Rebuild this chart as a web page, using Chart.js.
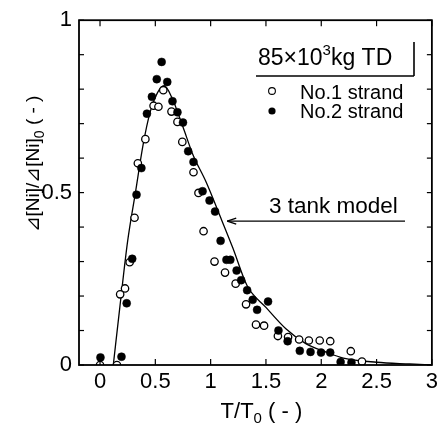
<!DOCTYPE html>
<html>
<head>
<meta charset="utf-8">
<script src="https://cdn.jsdelivr.net/npm/chart.js@4"></script>
<style>
    html, body { margin: 0; padding: 0; background: #fff; }
    canvas { display: block; }
</style>
</head>
<body>
<canvas id="chart" width="442" height="430"></canvas>
<script>
(function () {
    "use strict";

    // Axis ticks
    const xTicks = [0, 0.5, 1, 1.5, 2, 2.5, 3];
    const xTickLabels = ["0", "0.5", "1", "1.5", "2", "2.5", "3"];
    const yTicks = [0, 0.1, 0.2, 0.3, 0.4, 0.5, 0.6, 0.7, 0.8, 0.9, 1];
    const yTickLabels = ["0", "", "", "", "", "0.5", "", "", "", "", "1"];

    // No.1 strand (open circles)
    const strand1X = [0, 0.153, 0.182, 0.226, 0.268, 0.312, 0.342, 0.41, 0.484, 0.528,
        0.572, 0.646, 0.70, 0.744, 0.845, 0.89, 0.936, 1.035, 1.13, 1.226,
        1.32, 1.41, 1.483, 1.608, 1.70, 1.80, 1.888, 1.986, 2.081, 2.267, 2.368];
    const strand1Y = [0, 0, 0.205, 0.222, 0.298, 0.427, 0.585, 0.655, 0.752, 0.749,
        0.797, 0.735, 0.705, 0.647, 0.559, 0.499, 0.388, 0.30, 0.268, 0.236,
        0.176, 0.117, 0.114, 0.084, 0.081, 0.074, 0.071, 0.071, 0.069, 0.04, 0.01];

    // No.2 strand (filled circles)
    const strand2X = [0.004, 0.194, 0.241, 0.291, 0.33, 0.374, 0.424, 0.469, 0.513, 0.557,
        0.608, 0.655, 0.70, 0.75, 0.797, 0.845, 0.927, 0.99, 1.04, 1.09,
        1.143, 1.178, 1.235, 1.276, 1.33, 1.38, 1.42, 1.519, 1.613, 1.696,
        1.806, 1.903, 1.998, 2.081, 2.175, 2.273];
    const strand2Y = [0.022, 0.024, 0.179, 0.308, 0.494, 0.571, 0.729, 0.778, 0.829, 0.879,
        0.821, 0.765, 0.733, 0.703, 0.62, 0.589, 0.504, 0.477, 0.445, 0.36,
        0.305, 0.305, 0.274, 0.246, 0.217, 0.189, 0.16, 0.184, 0.10, 0.069,
        0.041, 0.038, 0.036, 0.036, 0.009, 0.007];

    // 3 tank model curve
    const modelX = [0.12, 0.18, 0.25, 0.32, 0.39, 0.45, 0.52, 0.58, 0.65, 0.75,
        0.84, 0.96, 1.1, 1.2, 1.33, 1.5, 1.68, 1.86, 2.04, 2.2, 2.5, 2.8, 3.0];
    const modelY = [0, 0.17, 0.36, 0.5, 0.64, 0.73, 0.79, 0.81, 0.775, 0.69,
        0.61, 0.53, 0.42, 0.34, 0.23, 0.167, 0.105, 0.062, 0.038, 0.02, 0.008, 0.003, 0];

    const FONT = "'Liberation Sans', Arial, Helvetica, sans-serif";

    const toPoints = (xs, ys) => xs.map((x, i) => ({ x: x, y: ys[i] }));

    // text runs: [text, size, vertical shift]
    function richWidth(ctx, parts) {
        let w = 0;
        parts.forEach((p) => {
            ctx.font = p[1] + "px " + FONT;
            w += ctx.measureText(p[0]).width;
        });
        return w;
    }
    function drawRich(ctx, parts, x, y) {
        parts.forEach((p) => {
            ctx.font = p[1] + "px " + FONT;
            ctx.fillText(p[0], x, y + (p[2] || 0));
            x += ctx.measureText(p[0]).width;
        });
    }
    function line(ctx, x1, y1, x2, y2) {
        ctx.beginPath();
        ctx.moveTo(x1, y1);
        ctx.lineTo(x2, y2);
        ctx.stroke();
    }

    const decorations = {
        id: "decorations",
        afterDraw(chart) {
            const ctx = chart.ctx;
            const a = chart.chartArea;
            const xs = chart.scales.x;
            const ys = chart.scales.y;
            ctx.save();
            ctx.strokeStyle = "#000";
            ctx.fillStyle = "#000";

            // inward ticks
            ctx.lineWidth = 1.2;
            xTicks.forEach((v) => {
                const px = xs.getPixelForValue(v);
                line(ctx, px, a.bottom, px, a.bottom - 6);
                line(ctx, px, a.top, px, a.top + 6);
            });
            yTicks.forEach((v) => {
                const py = ys.getPixelForValue(v);
                line(ctx, a.left, py, a.left + 5, py);
                line(ctx, a.right, py, a.right - 5, py);
            });

            // frame
            ctx.lineWidth = 1.8;
            ctx.strokeRect(a.left, a.top, a.right - a.left, a.bottom - a.top);

            ctx.textBaseline = "alphabetic";
            ctx.textAlign = "left";

            // x axis title
            const xt = [["T/T", 22], ["0", 15, 5], [" ( - )", 22]];
            drawRich(ctx, xt, (a.left + a.right) / 2 - richWidth(ctx, xt) / 2 + 6, 418);

            // y axis title
            const yt = [["\u22BF[Ni]/\u22BF[Ni]", 19], ["0", 14, 5], [" ( - )", 19]];
            ctx.save();
            ctx.translate(39, 164);
            ctx.rotate(-Math.PI / 2);
            drawRich(ctx, yt, -richWidth(ctx, yt) / 2, 0);
            ctx.restore();

            // condition box
            drawRich(ctx, [["85\u00D710", 23], ["3", 15, -10], ["kg TD", 23]], 258, 65);
            ctx.lineWidth = 1.6;
            line(ctx, 256, 76, 414, 76);
            line(ctx, 414, 42, 414, 76);

            // legend
            const lx = 272;
            ctx.lineWidth = 1.1;
            ctx.beginPath();
            ctx.arc(lx, 91, 3.4, 0, Math.PI * 2);
            ctx.fillStyle = "#fff";
            ctx.fill();
            ctx.stroke();
            ctx.fillStyle = "#000";
            ctx.beginPath();
            ctx.arc(lx, 111, 3.6, 0, Math.PI * 2);
            ctx.fill();
            drawRich(ctx, [["No.1 strand", 20]], 300, 99);
            drawRich(ctx, [["No.2 strand", 20]], 300, 118);

            // model label and arrow
            drawRich(ctx, [["3 tank model", 22.5]], 269, 213);
            const tipX = xs.getPixelForValue(1.15);
            const tipY = ys.getPixelForValue(0.417);
            ctx.lineWidth = 1.3;
            line(ctx, tipX, tipY, 405, tipY);
            line(ctx, tipX, tipY, tipX + 9, tipY - 3);
            line(ctx, tipX, tipY, tipX + 9, tipY + 3);

            ctx.restore();
        },
    };

    const ctx = document.getElementById("chart").getContext("2d");
    new Chart(ctx, {
        type: "scatter",
        data: {
            datasets: [
                {
                    label: "No.2 strand",
                    data: toPoints(strand2X, strand2Y),
                    pointRadius: 4,
                    pointBackgroundColor: "#000",
                    pointBorderColor: "#000",
                    pointBorderWidth: 0.5,
                    clip: 0,
                },
                {
                    label: "No.1 strand",
                    data: toPoints(strand1X, strand1Y),
                    pointRadius: 3.7,
                    pointBackgroundColor: "#fff",
                    pointBorderColor: "#000",
                    pointBorderWidth: 1.3,
                    clip: 0,
                },
                {
                    label: "3 tank model",
                    data: toPoints(modelX, modelY),
                    showLine: true,
                    pointRadius: 0,
                    borderColor: "#000",
                    borderWidth: 1.3,
                    cubicInterpolationMode: "monotone",
                    clip: 0,
                },
            ],
        },
        options: {
            responsive: false,
            animation: false,
            devicePixelRatio: 1,
            layout: {
                padding: { top: 15, right: 7, bottom: 0, left: 0 },
            },
            plugins: {
                legend: { display: false },
                tooltip: { enabled: false },
            },
            scales: {
                x: {
                    type: "linear",
                    min: -0.19,
                    max: 3,
                    afterBuildTicks: (s) => {
                        s.ticks = xTicks.map((v) => ({ value: v }));
                    },
                    afterFit: (s) => {
                        s.height = 65;
                    },
                    ticks: {
                        autoSkip: false,
                        maxRotation: 0,
                        padding: 4,
                        color: "#000",
                        font: { family: FONT, size: 22 },
                        callback: (v) => xTickLabels[xTicks.indexOf(v)],
                    },
                    grid: { display: false, drawTicks: false },
                    border: { display: false },
                },
                y: {
                    type: "linear",
                    min: 0,
                    max: 1,
                    afterBuildTicks: (s) => {
                        s.ticks = yTicks.map((v) => ({ value: v }));
                    },
                    afterFit: (s) => {
                        s.width = 79;
                    },
                    ticks: {
                        autoSkip: false,
                        padding: 7,
                        color: "#000",
                        font: { family: FONT, size: 22 },
                        callback: (v) => yTickLabels[yTicks.indexOf(v)],
                    },
                    grid: { display: false, drawTicks: false },
                    border: { display: false },
                },
            },
        },
        plugins: [decorations],
    });
})();
</script>
</body>
</html>
